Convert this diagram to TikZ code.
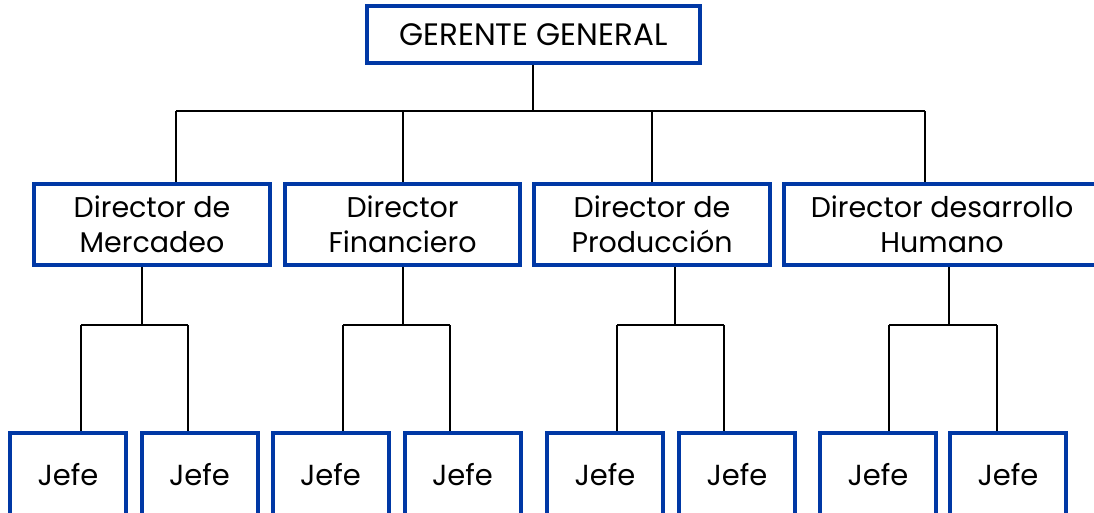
\documentclass[tikz,border=0pt]{standalone}
\usepackage{fontspec}
\setmainfont{Poppins}
\definecolor{azul}{RGB}{0,56,165}

\tikzset{
    caja/.style={draw=azul, line width=4pt, rectangle, inner sep=0pt, align=center},
    conector/.style={draw=black, line width=1.5pt},
}

\begin{document}
\begin{tikzpicture}[x=1pt, y=-1pt]
    \useasboundingbox (0,0) rectangle (1094,513);

    \node[caja, minimum width=333pt, minimum height=57pt, font=\fontsize{31}{36}\selectfont] (gerente) at (533.5,34.5) {GERENTE GENERAL};

    \node[caja, minimum width=236pt, minimum height=81pt, font=\fontsize{28.5}{35}\selectfont] (dir1) at (152,224.5) {Director de\\Mercadeo};
    \node[caja, minimum width=235pt, minimum height=81pt, font=\fontsize{28.5}{35}\selectfont] (dir2) at (402.5,224.5) {Director\\Financiero};
    \node[caja, minimum width=236pt, minimum height=81pt, font=\fontsize{28.5}{35}\selectfont] (dir3) at (652,224.5) {Director de\\Producción};
    \node[caja, minimum width=316pt, minimum height=81pt, font=\fontsize{28.5}{35}\selectfont] (dir4) at (942,224.5) {Director desarrollo\\Humano};

    \foreach \i/\x in {1/68, 2/199.5, 3/330.5, 4/462.5, 5/605, 6/737, 7/878, 8/1008}
        \node[caja, minimum width=116pt, minimum height=83pt, font=\fontsize{29}{34}\selectfont] (jefe\i) at (\x,474.5) {Jefe};

    % gerente a directores
    \coordinate (barra) at (533,111);
    \coordinate (t1) at (176,111);
    \coordinate (t2) at (403,111);
    \coordinate (t3) at (652,111);
    \coordinate (t4) at (925,111);
    \draw[conector] (gerente.south -| barra) -- (barra);
    \draw[conector] (t1) -- (t4);
    \draw[conector] (t1) -- (t1 |- dir1.north);
    \draw[conector] (t2) -- (t2 |- dir2.north);
    \draw[conector] (t3) -- (t3 |- dir3.north);
    \draw[conector] (t4) -- (t4 |- dir4.north);

    % directores a jefes
    \foreach \d/\m/\l/\r/\a/\b in {1/142/81/188/1/2, 2/403/343/450/3/4, 3/675/617/724/5/6, 4/949/889/997/7/8} {
        \coordinate (m\d) at (\m,325);
        \coordinate (ml\d) at (\l,325);
        \coordinate (mr\d) at (\r,325);
        \draw[conector] (m\d |- dir\d.south) -- (m\d);
        \draw[conector] (ml\d) -- (mr\d);
        \draw[conector] (ml\d) -- (ml\d |- jefe\a.north);
        \draw[conector] (mr\d) -- (mr\d |- jefe\b.north);
    }
\end{tikzpicture}
\end{document}
